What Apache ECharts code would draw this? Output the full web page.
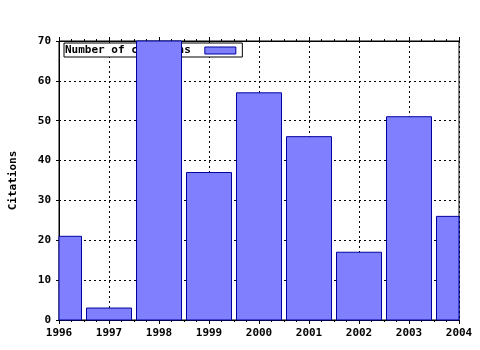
<!DOCTYPE html>
<html><head><meta charset="utf-8">
<script src="https://cdn.jsdelivr.net/npm/echarts@6/dist/echarts.min.js"></script>
<style>html,body{margin:0;padding:0;background:#fff}#c{width:480px;height:350px}</style>
</head><body><div id="c"></div>
<script>
var years = [1996, 1997, 1998, 1999, 2000, 2001, 2002, 2003, 2004];
var citations = [21, 3, 70, 37, 57, 46, 17, 51, 26];
var seriesName = 'Number of citations';
var yTitle = 'Citations';

var font = 'DejaVu Sans Mono';
var chart = echarts.init(document.getElementById('c'), null, {renderer: 'canvas'});
var dots = {color: '#000', width: 1, type: [2, 3]};
var fillC = '#8080ff', edgeC = '#0000a0';
chart.setOption({
  animation: false,
  backgroundColor: '#fff',
  grid: {left: 57, right: 21, top: 41, bottom: 30, show: true, borderColor: '#000', borderWidth: 1, backgroundColor: 'transparent'},
  legend: {
    data: [{name: seriesName, icon: 'rect'}], icon: 'rect', left: 64, top: 43, align: 'right', orient: 'horizontal',
    padding: [2, 6, 1, 1], itemWidth: 31, itemHeight: 7, z: 4,
    backgroundColor: '#fff', borderColor: '#000', borderWidth: 1, borderRadius: 0,
    textStyle: {fontFamily: font, fontWeight: 'bold', fontSize: 11, color: '#000', padding: [0, 9, 0, 0]},
    itemStyle: {color: fillC, borderColor: edgeC, borderWidth: 1, borderRadius: 0}
  },
  xAxis: [{
    type: 'value', min: 1996, max: 2004, interval: 1, position: 'bottom',
    axisLine: {show: true, lineStyle: {color: '#000'}},
    axisTick: {show: true, length: 4, lineStyle: {color: '#000'}},
    minorTick: {show: true, splitNumber: 4, length: 2, lineStyle: {color: '#000'}},
    axisLabel: {fontFamily: font, fontWeight: 'bold', fontSize: 11, color: '#000', margin: 8, formatter: function(v){return String(v);}},
    splitLine: {show: true, lineStyle: dots}
  }, {
    type: 'value', min: 1996, max: 2004, interval: 1, position: 'top',
    axisLine: {show: true, lineStyle: {color: '#000'}},
    axisTick: {show: true, length: 4, lineStyle: {color: '#000'}},
    minorTick: {show: true, splitNumber: 4, length: 2, lineStyle: {color: '#000'}},
    axisLabel: {show: false}, splitLine: {show: false}
  }],
  yAxis: {
    type: 'value', min: 0, max: 70, interval: 10,
    name: yTitle, nameLocation: 'middle', nameGap: 40, nameRotate: 90,
    nameTextStyle: {fontFamily: font, fontWeight: 'bold', fontSize: 11, color: '#000'},
    axisLine: {show: true, lineStyle: {color: '#000'}},
    axisTick: {show: true, length: 3, lineStyle: {color: '#000'}},
    axisLabel: {fontFamily: font, fontWeight: 'bold', fontSize: 11, color: '#000', margin: 8},
    splitLine: {show: true, lineStyle: dots}
  },
  series: [{
    name: seriesName, type: 'custom', xAxisIndex: 0, z: 5,
    data: years.map(function(y, i){ return [y, citations[i]]; }),
    encode: {x: 0, y: 1},
    itemStyle: {color: fillC, borderColor: edgeC, borderWidth: 1},
    renderItem: function(params, api) {
      var x = api.value(0), v = api.value(1);
      var p0 = api.coord([x, 0]);
      var p1 = api.coord([x, v]);
      var w = api.size([0.9, 0])[0];
      var cs = params.coordSys;
      var shape = echarts.graphic.clipRectByRect(
        {x: p0[0] - w / 2, y: p1[1], width: w, height: p0[1] - p1[1]},
        {x: cs.x, y: cs.y, width: cs.width, height: cs.height});
      return shape && {type: 'rect', shape: shape,
        style: {fill: fillC, stroke: edgeC, lineWidth: 1}};
    }
  }]
});
</script></body></html>
